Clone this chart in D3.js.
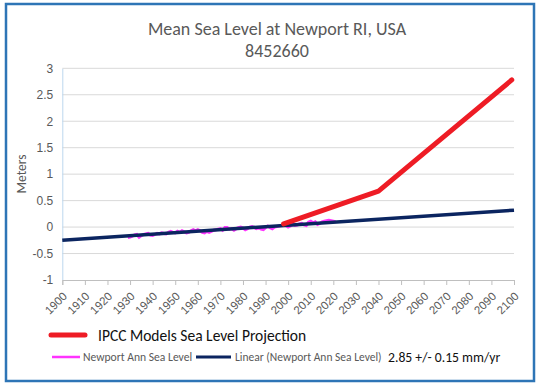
<!DOCTYPE html>
<html><head><meta charset="utf-8">
<script src="https://cdn.jsdelivr.net/npm/d3@7"></script>
<style>html,body{margin:0;padding:0;background:#fff;} svg{display:block;font-family:Calibri,Carlito,Lato,"Liberation Sans",sans-serif;}</style>
</head><body>
<svg id="c" width="540" height="387"></svg>
<script>
const years = d3.range(1929, 2022);
const newportLevel = [-0.20,
 -0.19,-0.17,-0.15,-0.14,-0.19,-0.16,-0.14,-0.13,-0.12,-0.15,
 -0.16,-0.14,-0.12,-0.13,-0.11,-0.12,-0.13,-0.10,-0.08,-0.10,
 -0.11,-0.08,-0.10,-0.07,-0.09,-0.11,-0.10,-0.07,-0.05,-0.07,
 -0.05,-0.07,-0.10,-0.11,-0.08,-0.10,-0.08,-0.06,-0.05,-0.04,
 -0.03,-0.06,-0.01,-0.01,-0.04,-0.03,-0.06,-0.03,-0.01,0.00,
 -0.02,-0.05,-0.03,0.00,0.01,-0.01,-0.03,-0.01,-0.04,-0.05,
 -0.01,0.02,-0.01,-0.03,0.00,0.01,0.02,0.03,0.05,0.03,
 0.00,0.02,0.05,0.03,0.04,0.06,0.07,0.04,0.03,0.09,
 0.11,0.08,0.10,0.05,0.07,0.10,0.11,0.12,0.13,0.12,
 0.11,0.10];
const trendYears = [1900, 2100];
const trendLevel = [-0.25, 0.32];
const ipccYears = [1998, 2040, 2099];
const ipccLevel = [0.06, 0.68, 2.78];
const yTicks = [-1,-0.5,0,0.5,1,1.5,2,2.5,3];
const xTicks = d3.range(1900, 2101, 10);

const svg = d3.select("#c");
svg.append("rect").attr("x",6).attr("y",4).attr("width",528).attr("height",377)
  .attr("fill","#fff").attr("stroke","#2e75b6").attr("stroke-width",2.5);

const x = d3.scaleLinear().domain([1900,2100]).range([62.3,514]);
const y = d3.scaleLinear().domain([-1,3]).range([280,68.3]);

// title
svg.append("text").attr("x",277).attr("y",35).attr("text-anchor","middle")
  .attr("font-size",18).attr("fill","#595959").text("Mean Sea Level at Newport RI, USA");
svg.append("text").attr("x",277).attr("y",57).attr("text-anchor","middle")
  .attr("font-size",18).attr("fill","#595959").text("8452660");

// gridlines
svg.append("g").selectAll("line").data(yTicks.filter(d=>d>-1)).join("line")
  .attr("x1",x(1900)).attr("x2",x(2100)).attr("y1",d=>y(d)).attr("y2",d=>y(d))
  .attr("stroke","#d9d9d9").attr("stroke-width",1);

// y axis
const ya = svg.append("g").attr("transform",`translate(${x(1900)},0)`)
  .call(d3.axisLeft(y).tickValues(yTicks).tickSize(0).tickPadding(9).tickFormat(d=>String(d)));
ya.select(".domain").attr("stroke","#bdd7ee");
ya.selectAll("text").attr("font-size",12).attr("fill","#595959").attr("font-family","inherit");

// x axis
const xa = svg.append("g").attr("transform",`translate(0,${y(-1)})`)
  .call(d3.axisBottom(x).tickValues(xTicks).tickSize(5).tickFormat(d3.format("d")));
xa.select(".domain").attr("stroke","#bfbfbf");
xa.selectAll(".tick line").attr("stroke","#bfbfbf");
xa.selectAll("text").attr("font-size",11.5).attr("fill","#595959").attr("font-family","inherit")
  .attr("text-anchor","end").attr("dy",0).attr("y",0)
  .attr("transform","translate(5,17) rotate(-45)");

// y label
svg.append("text").attr("transform","translate(26,174) rotate(-90)").attr("text-anchor","middle")
  .attr("font-size",13.5).attr("fill","#595959").text("Meters");

const line = d3.line().x(d=>x(d[0])).y(d=>y(d[1]));

svg.append("path").datum(years.map((yr,i)=>[yr,newportLevel[i]]))
  .attr("d",line).attr("fill","none").attr("stroke","#ff33ff").attr("stroke-width",3);
svg.append("path").datum(trendYears.map((yr,i)=>[yr,trendLevel[i]]))
  .attr("d",line).attr("fill","none").attr("stroke","#0b2560").attr("stroke-width",3.5);
svg.append("path").datum(ipccYears.map((yr,i)=>[yr,ipccLevel[i]]))
  .attr("d",line).attr("fill","none").attr("stroke","#ee1c25").attr("stroke-width",5)
  .attr("stroke-linecap","round").attr("stroke-linejoin","round");

// legend
const lg = svg.append("g");
lg.append("line").attr("x1",51).attr("x2",85).attr("y1",335).attr("y2",335)
  .attr("stroke","#ee1c25").attr("stroke-width",5).attr("stroke-linecap","round");
lg.append("text").attr("x",98).attr("y",341).attr("font-size",15.5).attr("fill","#111").text("IPCC Models Sea Level Projection");
lg.append("line").attr("x1",52).attr("x2",80).attr("y1",357).attr("y2",357)
  .attr("stroke","#ff33ff").attr("stroke-width",2.5);
lg.append("text").attr("x",83).attr("y",361).attr("font-size",11.6).attr("fill","#595959").text("Newport Ann Sea Level");
lg.append("line").attr("x1",196).attr("x2",231).attr("y1",357).attr("y2",357)
  .attr("stroke","#0b2560").attr("stroke-width",3);
lg.append("text").attr("x",235).attr("y",361).attr("font-size",11.5).attr("fill","#595959").text("Linear (Newport Ann Sea Level)");
lg.append("text").attr("x",388).attr("y",362).attr("font-size",13.7).attr("fill","#111").text("2.85 +/- 0.15 mm/yr");
</script>
</body></html>
